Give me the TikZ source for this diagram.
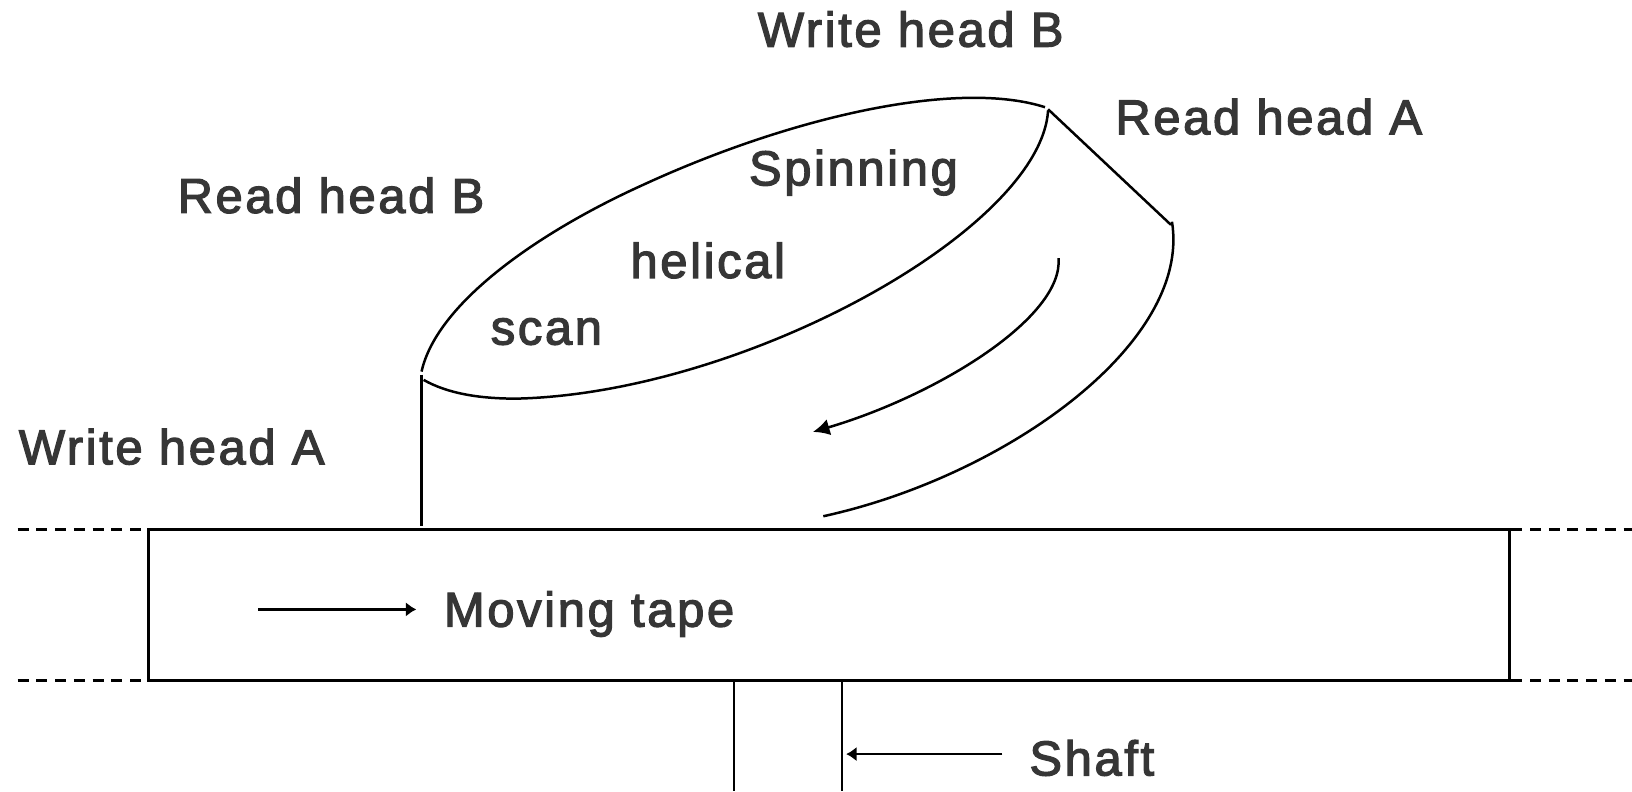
\documentclass[tikz,border=0pt]{standalone}
\usepackage{fontspec}
\setmainfont{Liberation Sans}
\newfontfamily\labfont{Liberation Sans}[LetterSpace=5.4]
\newcommand{\heavytext}[1]{\special{pdf:code 2 Tr 1.2 w}#1\special{pdf:code 0 Tr}}
\usetikzlibrary{arrows.meta}
\definecolor{labelgray}{HTML}{363636}
\tikzset{
  x=1pt,y=-1pt,
  lab/.style={text=labelgray,inner sep=0pt,font=\labfont\fontsize{47}{52}\selectfont,anchor=base},
  thinline/.style={draw=black,line width=2.4pt},
  arrowline/.style={draw=black,line width=2.7pt},
  boxline/.style={draw=black,line width=3pt},
  dashline/.style={draw=black,line width=3pt,dash pattern=on 10.5pt off 7.5pt},
  tip/.style={-{Latex[length=16pt,width=16pt]}},
  smalltip/.style={-{Latex[length=10pt,width=14pt]}}
}
\begin{document}
\begin{tikzpicture}
\useasboundingbox (0,0) rectangle (1568,760);
% tape
\node[boxline,minimum width=1308pt,minimum height=145pt,inner sep=0pt,outer sep=0pt,anchor=north west] (tape) at (142.5,508.4) {};
\coordinate (dlt) at (17,508.4); \coordinate (dlte) at (138,508.4);
\coordinate (dlb) at (17,653.4); \coordinate (dlbe) at (138,653.4);
\coordinate (drt) at (1452,508.4); \coordinate (drte) at (1568,508.4);
\coordinate (drb) at (1452,653.4); \coordinate (drbe) at (1568,653.4);
\draw[dashline] (dlt) -- (dlte);
\draw[dashline] (dlb) -- (dlbe);
\draw[dashline] (drt) -- (drte);
\draw[dashline] (drb) -- (drbe);
% drum
\coordinate (dl) at (405,360); \coordinate (dlf) at (405,505);
\draw[thinline] (dl) -- (dlf);
\draw[thinline] (405,357) .. controls (420,290) and (520,222) .. (617,178) .. controls (760,112) and (920,76) .. (1004,103);
\draw[thinline] (1007,106) .. controls (1000,220) and (715,378) .. (496,383) .. controls (460,383) and (430,378) .. (407,365);
\coordinate (rt) at (1007,105); \coordinate (rb) at (1125,216);
\draw[thinline] (rt) -- (rb);
\draw[thinline] (1126,213) .. controls (1145,330) and (965,458) .. (791,496);
\draw[thinline,tip] (1017,248) .. controls (1022,305) and (900,380) .. (781,415);
% shaft
\coordinate (sl) at (705,653); \coordinate (sle) at (705,760);
\coordinate (sr) at (809,653); \coordinate (sre) at (809,760);
\draw[thinline] (sl) -- (sle);
\draw[thinline] (sr) -- (sre);
% labels
\node[lab] (wb) at (875,44.8) {\heavytext{Write head B}};
\node[lab] (ra) at (1219,129) {\heavytext{Read head A}};
\node[lab] (rb2) at (318,204.5) {\heavytext{Read head B}};
\node[lab] (sp) at (820,178) {\heavytext{Spinning}};
\node[lab] (he) at (680,267) {\heavytext{helical}};
\node[lab] (sc) at (525,331) {\heavytext{scan}};
\node[lab] (wa) at (165,446) {\heavytext{Write head A}};
\node[lab] (mt) at (566,602) {\heavytext{Moving tape}};
\node[lab] (sh) at (1049,745) {\heavytext{Shaft}};
% arrows
\coordinate (ma) at (248,585.5); \coordinate (mb) at (400,585.5);
\draw[arrowline,smalltip] (ma) -- (mb);
\coordinate (aa) at (963,724.5); \coordinate (ab) at (813,724.5);
\draw[arrowline,smalltip] (aa) -- (ab);
\end{tikzpicture}
\end{document}
